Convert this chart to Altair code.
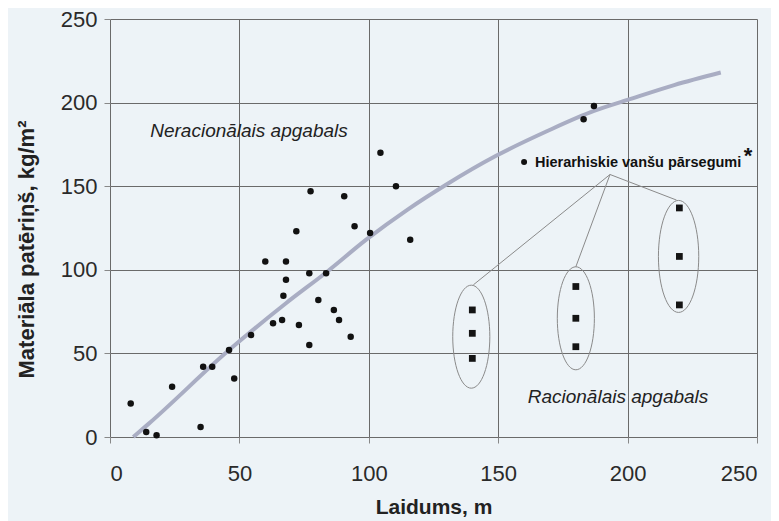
import altair as alt
import pandas as pd

# Scatter points (Laidums, m ; Materiāla patēriņš, kg/m2)
pts_x = [8, 14, 18, 24, 35, 36, 39.5, 46, 48, 54.5, 60, 63, 66.5, 67, 68, 68, 73, 77, 77,
         80.5, 83.5, 86.5, 88.5, 93, 77.5, 90.5, 72, 94.5, 100.5, 104.5, 110.5, 116, 187, 183]
pts_y = [20, 3, 1, 30, 6, 42, 42, 52, 35, 61, 105, 68, 70, 84.5, 105, 94, 67, 98, 55,
         82, 98, 76, 70, 60, 147, 144, 123, 126, 122, 170, 150, 118, 198, 190]

# Hierarchical floors (squares)
sq_x = [140, 140, 140, 180, 180, 180, 220, 220, 220]
sq_y = [76, 62, 47, 90, 71, 54, 137, 108, 79]

# Trend curve
curve_x = [9, 15, 46, 68, 84, 99, 115, 130, 149, 169, 187, 200, 218, 236]
curve_y = [0, 8, 52, 80, 99, 118, 136, 151, 168, 183, 195, 201.6, 210.5, 218]

# Ellipse centres
ell_x = [139.6, 180, 219.7]
ell_y = [60, 71, 108]

# Connector lines from label to ellipses
con_x0 = [193.2, 193.2, 193.2]
con_y0 = [157, 157, 157]
con_x1 = [140.4, 180, 218.9]
con_y1 = [91, 101.8, 141.7]

ticks = [0, 50, 100, 150, 200, 250]

FONT = "Liberation Sans"
TXT = "#222222"

xs = alt.Scale(domain=[0, 250], nice=False, zero=False)
ys = alt.Scale(domain=[0, 250], nice=False, zero=False)

xax = alt.Axis(values=ticks, grid=True, gridColor="#6a6a6a", gridWidth=1, gridOpacity=1,
               domain=False, ticks=True, tickSize=6, tickColor="#888888",
               labelFontSize=22, labelColor="#2a2a2a", labelFont=FONT, labelPadding=20,
               title="Laidums, m", titleFont=FONT, titleFontSize=21, titleFontWeight="bold",
               titleColor=TXT, titleY=76, titleBaseline="alphabetic", titleAnchor="middle")
yax = alt.Axis(values=ticks, grid=True, gridColor="#6a6a6a", gridWidth=1, gridOpacity=1,
               domain=False, ticks=True, tickSize=6, tickColor="#888888",
               labelFontSize=22, labelColor="#2a2a2a", labelFont=FONT, labelPadding=7,
               title="Materiāla patēriņš, kg/m²", titleFont=FONT, titleFontSize=22,
               titleFontWeight="bold", titleColor=TXT, titleX=-84, titleY=230,
               titleAngle=270, titleAlign="center", titleBaseline="middle")

curve_df = pd.DataFrame({"x": curve_x, "y": curve_y})
pts_df = pd.DataFrame({"x": pts_x, "y": pts_y})
sq_df = pd.DataFrame({"x": sq_x, "y": sq_y})
con_df = pd.DataFrame({"x": con_x0, "y": con_y0, "x2": con_x1, "y2": con_y1})

base_axes = alt.Chart(pts_df).mark_point(opacity=0).encode(
    x=alt.X("x:Q", scale=xs, axis=xax),
    y=alt.Y("y:Q", scale=ys, axis=yax),
)

curve = alt.Chart(curve_df).mark_line(color="#a9adc3", strokeWidth=4,
                                      interpolate="monotone").encode(
    x=alt.X("x:Q", scale=xs), y=alt.Y("y:Q", scale=ys))

connectors = alt.Chart(con_df).mark_rule(color="#8a8a8a", strokeWidth=1).encode(
    x=alt.X("x:Q", scale=xs), y=alt.Y("y:Q", scale=ys), x2="x2:Q", y2="y2:Q")

ell_sizes = [10609, 10609, 12544]
ell_layers = []
for i in range(3):
    d = pd.DataFrame({"x": [ell_x[i]], "y": [ell_y[i]]})
    ell_layers.append(
        alt.Chart(d).mark_point(
            shape="M0,-1 A0.36,1 0 1,1 0,1 A0.36,1 0 1,1 0,-1 Z",
            filled=False, stroke="#8a8a8a", strokeWidth=1, size=ell_sizes[i], opacity=1
        ).encode(x=alt.X("x:Q", scale=xs), y=alt.Y("y:Q", scale=ys))
    )

points = alt.Chart(pts_df).mark_circle(color="#111111", size=42, opacity=1).encode(
    x=alt.X("x:Q", scale=xs), y=alt.Y("y:Q", scale=ys))

squares = alt.Chart(sq_df).mark_square(color="#141414", size=46, opacity=1).encode(
    x=alt.X("x:Q", scale=xs), y=alt.Y("y:Q", scale=ys))

legend_pt = alt.Chart(pd.DataFrame({"x": [160], "y": [164.5]})).mark_circle(
    color="#111111", size=36, opacity=1).encode(
    x=alt.X("x:Q", scale=xs), y=alt.Y("y:Q", scale=ys))

def label(x, y, text, color=TXT, **kw):
    return alt.Chart(pd.DataFrame({"x": [x], "y": [y], "t": [text]})).mark_text(
        font=FONT, color=color, **kw).encode(
        x=alt.X("x:Q", scale=xs), y=alt.Y("y:Q", scale=ys), text="t:N")

t1 = label(53.7, 183, "Neracionālais apgabals", fontSize=19, fontStyle="italic",
           align="center", baseline="middle")
t2 = label(196.3, 24, "Racionālais apgabals", fontSize=19, fontStyle="italic",
           align="center", baseline="middle")
t3 = label(164.2, 163.6, "Hierarhiskie vanšu pārsegumi", fontSize=14.5, fontWeight="bold",
           align="left", baseline="middle", color="#111111")
t4 = label(246.5, 168, "*", fontSize=22, fontWeight="bold", align="center",
           baseline="middle", color="#111111")

chart = alt.layer(
    base_axes, curve, connectors, *ell_layers, points, squares, legend_pt, t1, t2, t3, t4
).properties(
    width=647, height=418,
    background="#edf3f7",
    padding={"left": 102, "top": 11, "right": 14, "bottom": 84},
    autosize=alt.AutoSizeParams(type="none"),
).configure_view(stroke=None)

chart.save("out.html", embed_options={"renderer": "svg", "actions": False})
